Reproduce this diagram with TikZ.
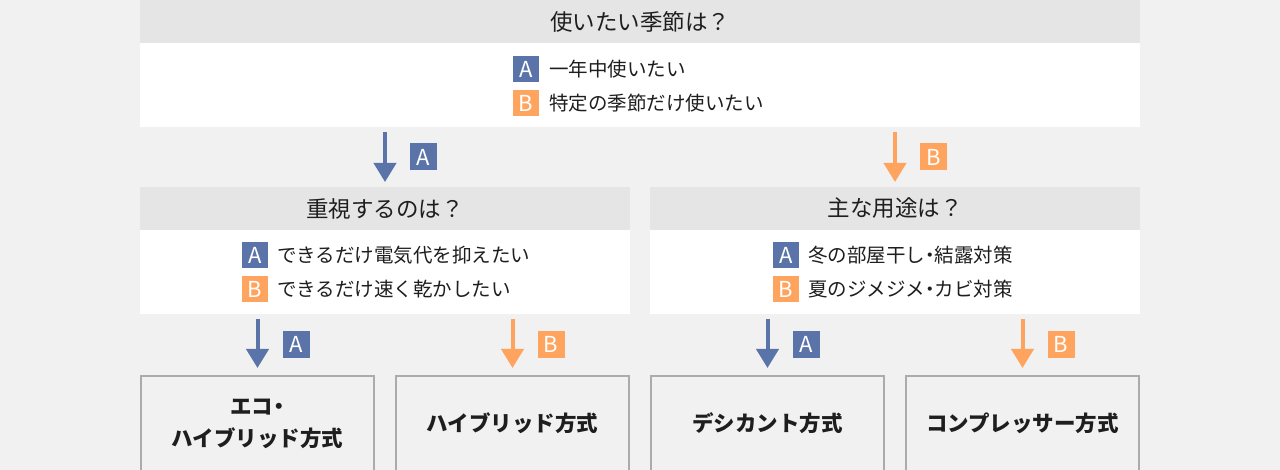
\documentclass[tikz,border=0pt]{standalone}
\usepackage{fontspec}
\setmainfont{Noto Sans CJK JP}
\usetikzlibrary{arrows.meta,positioning}
\definecolor{selA}{HTML}{5A73A8}
\definecolor{selB}{HTML}{FFA45F}
\definecolor{pagebg}{HTML}{F1F1F1}
\definecolor{headbg}{HTML}{E5E5E5}
\definecolor{boxline}{HTML}{ABABAB}
\definecolor{ink}{HTML}{1E1E1E}
\newcommand{\nakaguro}{\kern-5pt・\kern-5pt}

\begin{document}
\begin{tikzpicture}[x=1pt,y=-1pt,
    qhead/.style={fill=headbg, inner sep=0pt, outer sep=0pt, minimum height=43pt, text=ink, font=\fontsize{22.5}{26}\selectfont},
    qbody/.style={fill=white, inner sep=0pt, outer sep=0pt, minimum height=84pt},
    badge/.style={fill=#1, text=white, minimum size=26pt, inner sep=0pt, outer sep=0pt, font=\fontsize{22}{22}\selectfont},
    opt/.style={text=ink, inner sep=0pt, outer sep=0pt, font=\fontsize{19.5}{21}\selectfont},
    pick/.style={draw=#1, line width=4pt, -{Triangle[width=22pt,length=19pt]}, shorten <=5pt, shorten >=5pt},
    result/.style={draw=boxline, line width=2pt, fill=pagebg, text=ink, align=center, minimum width=233pt, minimum height=95pt, font=\bfseries\fontsize{21.5}{32}\selectfont}]
    \fill[pagebg](0,0)rectangle(1280,470);
    \useasboundingbox(0,0)rectangle(1280,470);

    \node[qhead, minimum width=1000pt](q1)at(640,21.5){使いたい季節は？};
    \node[qbody, minimum width=1000pt, below=0pt of q1](q1body){};
    \node[badge=selA](q1a)at(526,69){A};
    \node[opt, right=10pt of q1a](q1atext){一年中使いたい};
    \node[badge=selB](q1b)at(526,103){B};
    \node[opt, right=10pt of q1b](q1btext){特定の季節だけ使いたい};

    \node[qhead, minimum width=490pt](q2)at(385,208.5){重視するのは？};
    \node[qbody, minimum width=490pt, below=0pt of q2](q2body){};
    \node[badge=selA](q2a)at(255,255){A};
    \node[opt, right=9pt of q2a](q2atext){できるだけ電気代を抑えたい};
    \node[badge=selB](q2b)at(255,289){B};
    \node[opt, right=9pt of q2b](q2btext){できるだけ速く乾かしたい};

    \node[qhead, minimum width=490pt](q3)at(895,208.5){主な用途は？};
    \node[qbody, minimum width=490pt, below=0pt of q3](q3body){};
    \node[badge=selA](q3a)at(786,255){A};
    \node[opt, right=9pt of q3a](q3atext){冬の部屋干し\nakaguro 結露対策};
    \node[badge=selB](q3b)at(786,289){B};
    \node[opt, right=9pt of q3b](q3btext){夏のジメジメ\nakaguro カビ対策};

    \node[result](r1)at(257.5,423.5){エコ\nakaguro\\ハイブリッド方式};
    \node[result](r2)at(512.5,423.5){ハイブリッド方式};
    \node[result](r3)at(767.5,423.5){デシカント方式};
    \node[result](r4)at(1022.5,423.5){コンプレッサー方式};

    \draw[pick=selA](q1body.south -| q2.north)--(q2.north)node[midway, right=25pt, badge=selA, minimum size=27pt]{A};
    \draw[pick=selB](q1body.south -| q3.north)--(q3.north)node[midway, right=25pt, badge=selB, minimum size=27pt]{B};
    \draw[pick=selA, shorten >=7pt](q2body.south -| r1.north)--(r1.north)node[midway, right=25pt, badge=selA, minimum size=27pt]{A};
    \draw[pick=selB, shorten >=7pt](q2body.south -| r2.north)--(r2.north)node[midway, right=25pt, badge=selB, minimum size=27pt]{B};
    \draw[pick=selA, shorten >=7pt](q3body.south -| r3.north)--(r3.north)node[midway, right=25pt, badge=selA, minimum size=27pt]{A};
    \draw[pick=selB, shorten >=7pt](q3body.south -| r4.north)--(r4.north)node[midway, right=25pt, badge=selB, minimum size=27pt]{B};
\end{tikzpicture}
\end{document}
